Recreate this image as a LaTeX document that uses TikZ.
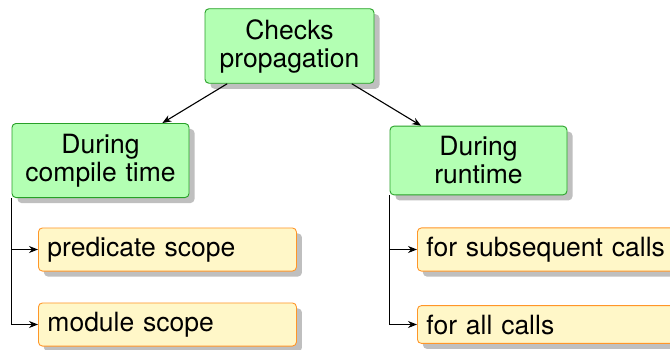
\documentclass[tikz,border=0pt]{standalone}
\usepackage{fontspec}
\setmainfont{TeX Gyre Heros}
\usetikzlibrary{arrows.meta,shadows}
\definecolor{gfill}{RGB}{179,255,179}
\definecolor{gdraw}{RGB}{40,160,40}
\definecolor{yfill}{RGB}{255,247,200}
\definecolor{ydraw}{RGB}{255,150,40}
\tikzset{
  base/.style={rounded corners=4pt, line width=0.9pt, font=\fontsize{26.5}{28}\selectfont,
    drop shadow={shadow xshift=5.5pt, shadow yshift=-5.5pt, opacity=0.5, fill=black!50}},
  gbox/.style={base, draw=gdraw, fill=gfill, align=center, inner xsep=10pt, inner ysep=10.5pt},
  ybox/.style={base, draw=ydraw, fill=yfill, align=left, text width=240pt, inner xsep=9pt, inner ysep=9pt, anchor=west},
  conn/.style={line width=1.1pt, -{Stealth[length=9pt,width=7pt]}}
}
\begin{document}
\begin{tikzpicture}[x=1pt,y=-1pt]
\clip (0,0) rectangle (670,349);
\fill[white] (0,0) rectangle (670,349);
\node[gbox, text width=149pt] (top) at (289.5,46) {Checks\\propagation};
\node[gbox, text width=157pt] (left) at (100.5,160.5) {During\\compile time};
\node[gbox, text width=157pt] (right) at (478.5,160.5) {During\\runtime};
\node[ybox] (p1) at (38,249.5) {predicate scope};
\node[ybox] (p2) at (38,324.5) {module scope};
\node[ybox] (r1) at (417,249.5) {for subsequent calls};
\node[ybox] (r2) at (417,324.5) {for all calls};
\draw[conn] (top) -- (left);
\draw[conn] (top) -- (right);
\draw[conn] (left.south west) |- (p1.west);
\draw[conn] (left.south west) |- (p2.west);
\draw[conn] (right.south west) |- (r1.west);
\draw[conn] (right.south west) |- (r2.west);
\end{tikzpicture}
\end{document}
